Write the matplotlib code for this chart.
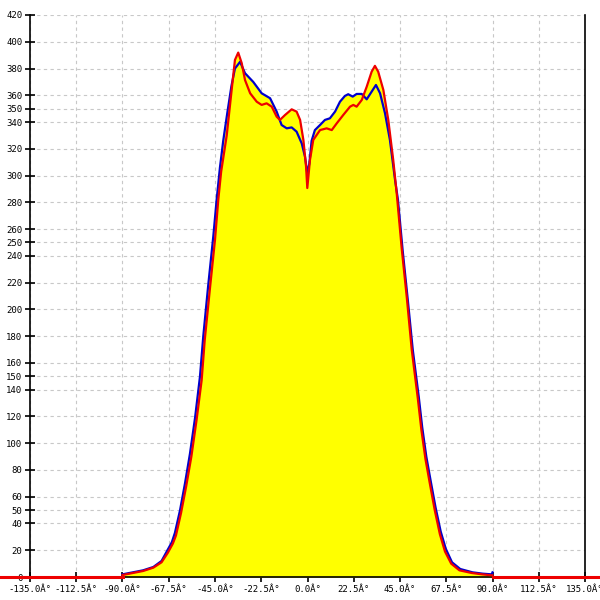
import numpy as np
import matplotlib
matplotlib.use("Agg")
from matplotlib import pyplot as plt

# angle grid and tick labels
x_ticks = [-135.0, -112.5, -90.0, -67.5, -45.0, -22.5, 0.0, 22.5, 45.0, 67.5, 90.0, 112.5, 135.0]
x_labels = ["-135.0Â°", "-112.5Â°", "-90.0Â°", "-67.5Â°", "-45.0Â°", "-22.5Â°", "0.0Â°",
            "22.5Â°", "45.0Â°", "67.5Â°", "90.0Â°", "112.5Â°", "135.0Â°"]
y_ticks = [0, 20, 40, 50, 60, 80, 100, 120, 140, 150, 160, 180, 200, 220, 240, 250,
           260, 280, 300, 320, 340, 350, 360, 380, 400, 420]

# blue series
blue_x = [-90, -85, -80, -75, -71, -68.5, -66, -64.5, -62, -59.6, -57.2, -54.7, -52.3,
          -50.7, -48.3, -45.8, -44.2, -42.6, -41, -39, -37, -35.3, -32.8, -30.4, -26.4,
          -22.3, -18.2, -15.0, -12.6, -10.1, -7.7, -5.3, -2.8, -1.2, -0.1, 0.9, 2.0,
          3.6, 6.1, 8.5, 10.9, 13.4, 15.8, 18.2, 19.8, 22.0, 23.9, 26.4, 28.8, 31.2,
          33.3, 35.3, 37.7, 40.1, 42.6, 44.0, 46.3, 48.8, 51.2, 54.1, 55.8, 57.8, 59.9,
          62.3, 64.8, 67.3, 70.3, 74.3, 80.3, 85.3, 89.6, 90]
blue_y = [2, 3.5, 5, 7.5, 12, 19, 26, 33, 50, 70, 92, 119, 150, 180, 218, 255, 282,
          306, 326, 347, 367, 380, 385, 376.5, 370, 361.5, 357.8, 347.8, 337.8, 335.3,
          336, 332.8, 324, 314, 301.7, 309, 326, 334, 337.8, 341.6, 342.8, 347.8, 355.2,
          359.5, 360.8, 359, 361, 361, 357, 362.7, 367.7, 361.5, 346.6, 326.6, 296.7,
          282, 244, 207, 170, 135, 112, 90, 72, 52, 34, 21, 11, 6, 3.5, 2.5, 2, 3.5]

# red series
red_x = [-90, -85, -80, -75, -71, -68, -65.5, -64, -61.5, -59, -56.5, -54, -51.5,
         -50, -47.5, -45, -43.4, -42, -39.3, -36.9, -35.3, -33.7, -32.0, -30.4,
         -27.9, -24.7, -22.3, -19.9, -17.4, -15.0, -13.4, -10.9, -7.7, -5.3, -3.6,
         -2.0, -0.7, -0.1, 1.2, 2.8, 6.1, 9.3, 11.8, 14.2, 17.4, 20.7, 22.3, 23.9,
         26.4, 28.8, 31.2, 32.8, 34.4, 36.9, 39.3, 41.7, 43.4, 45.8, 48.3, 50.7, 53.7,
         55.4, 57.4, 59.5, 61.9, 64.4, 66.9, 69.9, 73.9, 79.9, 84.9, 90]
red_y = [1.5, 3, 4.5, 7, 11, 18, 25, 31, 48, 68, 90, 117, 147, 177, 215, 252, 282,
         303, 330, 364, 386.4, 391.9, 384, 371.4, 361.5, 355.2, 352.8, 354, 351.5,
         344, 341.6, 345.3, 349.5, 347.8, 341.6, 326.6, 306.7, 290.7, 311.7, 326.6,
         334, 335.3, 334, 339, 345.3, 351.5, 352.8, 351.5, 356.5, 366.4, 377.6, 382,
         377.6, 364, 341.6, 311.7, 286.8, 246, 209, 170, 133, 110, 88, 70, 50, 32, 19,
         10, 5, 3, 2, 1.2]

fig = plt.figure(figsize=(6, 6), dpi=100)
ax = fig.add_axes([0.05, 0.0383, 0.925, 0.9367])

ax.fill_between(blue_x, blue_y, color="#ffff00", zorder=2, linewidth=0)
ax.fill_between(red_x, red_y, color="#ffff00", zorder=2, linewidth=0)
ax.plot(blue_x, blue_y, color="#0000cc", lw=1.6, zorder=4)
ax.plot(red_x, red_y, color="#ee0000", lw=1.6, zorder=5)

# zero line outside the data range, runs past the axes
x_lo, x_hi = -135, 135
span = x_hi - x_lo
ax.axhline(0, xmin=-0.06, xmax=(min(red_x) - x_lo) / span, color="#ee0000", lw=2.2,
           clip_on=False, zorder=6)
ax.axhline(0, xmin=(max(red_x) - x_lo) / span, xmax=1.03, color="#ee0000", lw=2.2,
           clip_on=False, zorder=6)

ax.set_xlim(x_lo, x_hi)
ax.set_ylim(0, 420)
ax.set_xticks(x_ticks)
ax.set_xticklabels(x_labels)
ax.set_yticks(y_ticks)
ax.set_yticklabels([str(v) for v in y_ticks])
for lab in ax.get_xticklabels() + ax.get_yticklabels():
    lab.set_family("DejaVu Sans Mono")
    lab.set_fontsize(6.5)
ax.tick_params(direction="inout", length=7, width=1.2, pad=2)
ax.grid(True, color="#c8c8c8", linestyle=(0, (3, 3)), linewidth=0.8, zorder=0)
ax.set_axisbelow(True)
ax.spines["top"].set_visible(False)
for s in ["left", "right", "bottom"]:
    ax.spines[s].set_linewidth(1.2)

fig.savefig("out.png", dpi=100)
